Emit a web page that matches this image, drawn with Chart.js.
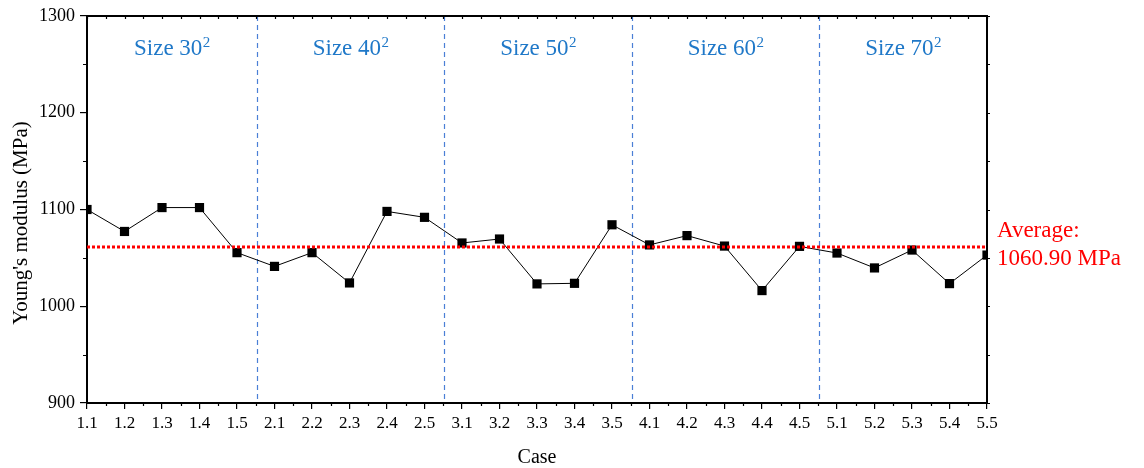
<!DOCTYPE html>
<html>
<head>
<meta charset="utf-8">
<script src="https://cdn.jsdelivr.net/npm/chart.js@4"></script>
<style>
  html, body { margin: 0; padding: 0; background: #fff; }
  #wrap { width: 1144px; height: 468px; position: relative; }
</style>
</head>
<body>
<div id="wrap"><canvas id="chart"></canvas></div>
<script>
'use strict';

// data
const cases = ['1.1', '1.2', '1.3', '1.4', '1.5',
  '2.1', '2.2', '2.3', '2.4', '2.5',
  '3.1', '3.2', '3.3', '3.4', '3.5',
  '4.1', '4.2', '4.3', '4.4', '4.5',
  '5.1', '5.2', '5.3', '5.4', '5.5'];
const modulus = [1100.0, 1077.3, 1102.0, 1102.0, 1055.4,
  1041.2, 1055.4, 1024.1, 1098.0, 1091.9,
  1065.4, 1069.5, 1023.1, 1023.7, 1084.2,
  1063.4, 1073.0, 1062.2, 1016.2, 1061.9,
  1055.0, 1039.6, 1058.1, 1023.4, 1052.9];
const yTicks = [900, 1000, 1100, 1200, 1300];
const averageValue = 1060.90;
const groupNames = ['Size 30', 'Size 40', 'Size 50', 'Size 60', 'Size 70'];
const groupBreaks = [4.53, 9.53, 14.53, 19.53]; // between last and first case of each size

const SERIF = '"Liberation Serif", "Times New Roman", serif';

// frame, minor ticks, size dividers, group labels and average line
const decor = {
  id: 'decor',
  beforeDatasetsDraw(chart) {
    const { ctx, chartArea: a, scales: { x } } = chart;
    ctx.save();
    ctx.strokeStyle = '#4a7fd6';
    ctx.lineWidth = 1.2;
    ctx.setLineDash([5, 4]);
    groupBreaks.forEach((b) => {
      const px = Math.round(x.getPixelForValue(b)) + 0.5;
      ctx.beginPath();
      ctx.moveTo(px, a.top);
      ctx.lineTo(px, a.bottom);
      ctx.stroke();
    });
    ctx.restore();

    // "Size N0²" labels, centred in each block
    const edges = [x.getPixelForValue(0)].concat(groupBreaks.map((b) => x.getPixelForValue(b)), [x.getPixelForValue(cases.length - 1)]);
    ctx.save();
    ctx.fillStyle = '#1f78c8';
    ctx.textBaseline = 'alphabetic';
    groupNames.forEach((name, i) => {
      const cx = (edges[i] + edges[i + 1]) / 2;
      ctx.font = '23px ' + SERIF;
      const w1 = ctx.measureText(name).width;
      ctx.font = '15px ' + SERIF;
      const w2 = ctx.measureText('2').width;
      const left = cx - (w1 + w2) / 2;
      ctx.font = '23px ' + SERIF;
      ctx.fillText(name, left, 55);
      ctx.font = '15px ' + SERIF;
      ctx.fillText('2', left + w1 + 0.5, 47);
    });
    ctx.restore();
  },
  afterDatasetsDraw(chart) {
    const { ctx, chartArea: a, scales: { y } } = chart;
    const py = Math.round(y.getPixelForValue(averageValue));
    ctx.save();
    ctx.strokeStyle = '#ff0000';
    ctx.lineWidth = 3;
    ctx.setLineDash([3, 2]);
    ctx.beginPath();
    ctx.moveTo(a.left, py);
    ctx.lineTo(a.right, py);
    ctx.stroke();
    ctx.restore();
  },
  afterDraw(chart) {
    const { ctx, chartArea: a, scales: { x, y } } = chart;
    ctx.save();
    ctx.strokeStyle = '#000';
    ctx.lineWidth = 2;
    ctx.beginPath();
    ctx.moveTo(a.left, a.top);
    ctx.lineTo(a.right, a.top);
    ctx.lineTo(a.right, a.bottom);
    ctx.stroke();

    ctx.lineWidth = 1.2;
    ctx.beginPath();
    // minor ticks on y (left outward, right outward small)
    for (let v = 950; v < 1300; v += 100) {
      const py = Math.round(y.getPixelForValue(v)) + 0.5;
      ctx.moveTo(a.left - 4, py); ctx.lineTo(a.left, py);
      ctx.moveTo(a.right, py); ctx.lineTo(a.right + 3, py);
    }
    yTicks.forEach((v) => {
      const py = Math.round(y.getPixelForValue(v)) + 0.5;
      ctx.moveTo(a.right, py); ctx.lineTo(a.right + 3, py);
    });
    // minor ticks on x and small ticks along the top
    for (let i = 0; i < cases.length; i++) {
      const px = Math.round(x.getPixelForValue(i)) + 0.5;
      ctx.moveTo(px, a.top); ctx.lineTo(px, a.top + 3);
      if (i < cases.length - 1) {
        const pm = Math.round(x.getPixelForValue(i + 0.5)) + 0.5;
        ctx.moveTo(pm, a.bottom); ctx.lineTo(pm, a.bottom + 3);
        ctx.moveTo(pm, a.top); ctx.lineTo(pm, a.top + 3);
      }
    }
    ctx.stroke();

    // average note at the right
    ctx.fillStyle = '#ff0000';
    ctx.font = '23px ' + SERIF;
    ctx.textAlign = 'left';
    ctx.textBaseline = 'alphabetic';
    ctx.fillText('Average:', a.right + 10, 237);
    ctx.fillText(averageValue.toFixed(2) + ' MPa', a.right + 10, 265);

    // axis titles
    ctx.fillStyle = '#000';
    ctx.font = '20px ' + SERIF;
    ctx.textAlign = 'center';
    ctx.fillText('Case', (a.left + a.right) / 2, 463);
    ctx.translate(27, 223);
    ctx.rotate(-Math.PI / 2);
    ctx.font = '21px ' + SERIF;
    ctx.fillText("Young's modulus (MPa)", 0, 0);
    ctx.restore();
  }
};

const chart = new Chart(document.getElementById('chart'), {
  type: 'line',
  data: {
    labels: cases,
    datasets: [{
      label: "Young's modulus",
      data: modulus,
      borderColor: '#000',
      borderWidth: 1,
      backgroundColor: '#000',
      pointStyle: 'rect',
      pointRadius: 6.5,
      pointBorderWidth: 0,
      tension: 0,
      clip: 0
    }]
  },
  options: {
    responsive: true,
    maintainAspectRatio: false,
    animation: false,
    layout: {
      padding: { top: 16, right: 157, left: 0, bottom: 0 }
    },
    scales: {
      x: {
        type: 'category',
        offset: false,
        afterFit(scale) { scale.height = 65; },
        border: { display: true, color: '#000', width: 2 },
        grid: { drawOnChartArea: false, drawTicks: true, tickLength: 6, color: '#000', lineWidth: 1.2 },
        ticks: {
          color: '#000',
          font: { family: SERIF, size: 17 },
          padding: 4,
          maxRotation: 0,
          autoSkip: false
        }
      },
      y: {
        min: 900,
        max: 1300,
        afterFit(scale) { scale.width = 87; },
        afterBuildTicks(scale) { scale.ticks = yTicks.map((v) => ({ value: v })); },
        border: { display: true, color: '#000', width: 2 },
        grid: { drawOnChartArea: false, drawTicks: true, tickLength: 7, color: '#000', lineWidth: 1.2 },
        ticks: {
          color: '#000',
          font: { family: SERIF, size: 18 },
          padding: 5,
          callback: (v) => String(v)
        }
      }
    },
    plugins: {
      legend: { display: false },
      tooltip: { enabled: false },
      title: { display: false }
    }
  },
  plugins: [decor]
});
</script>
</body>
</html>
